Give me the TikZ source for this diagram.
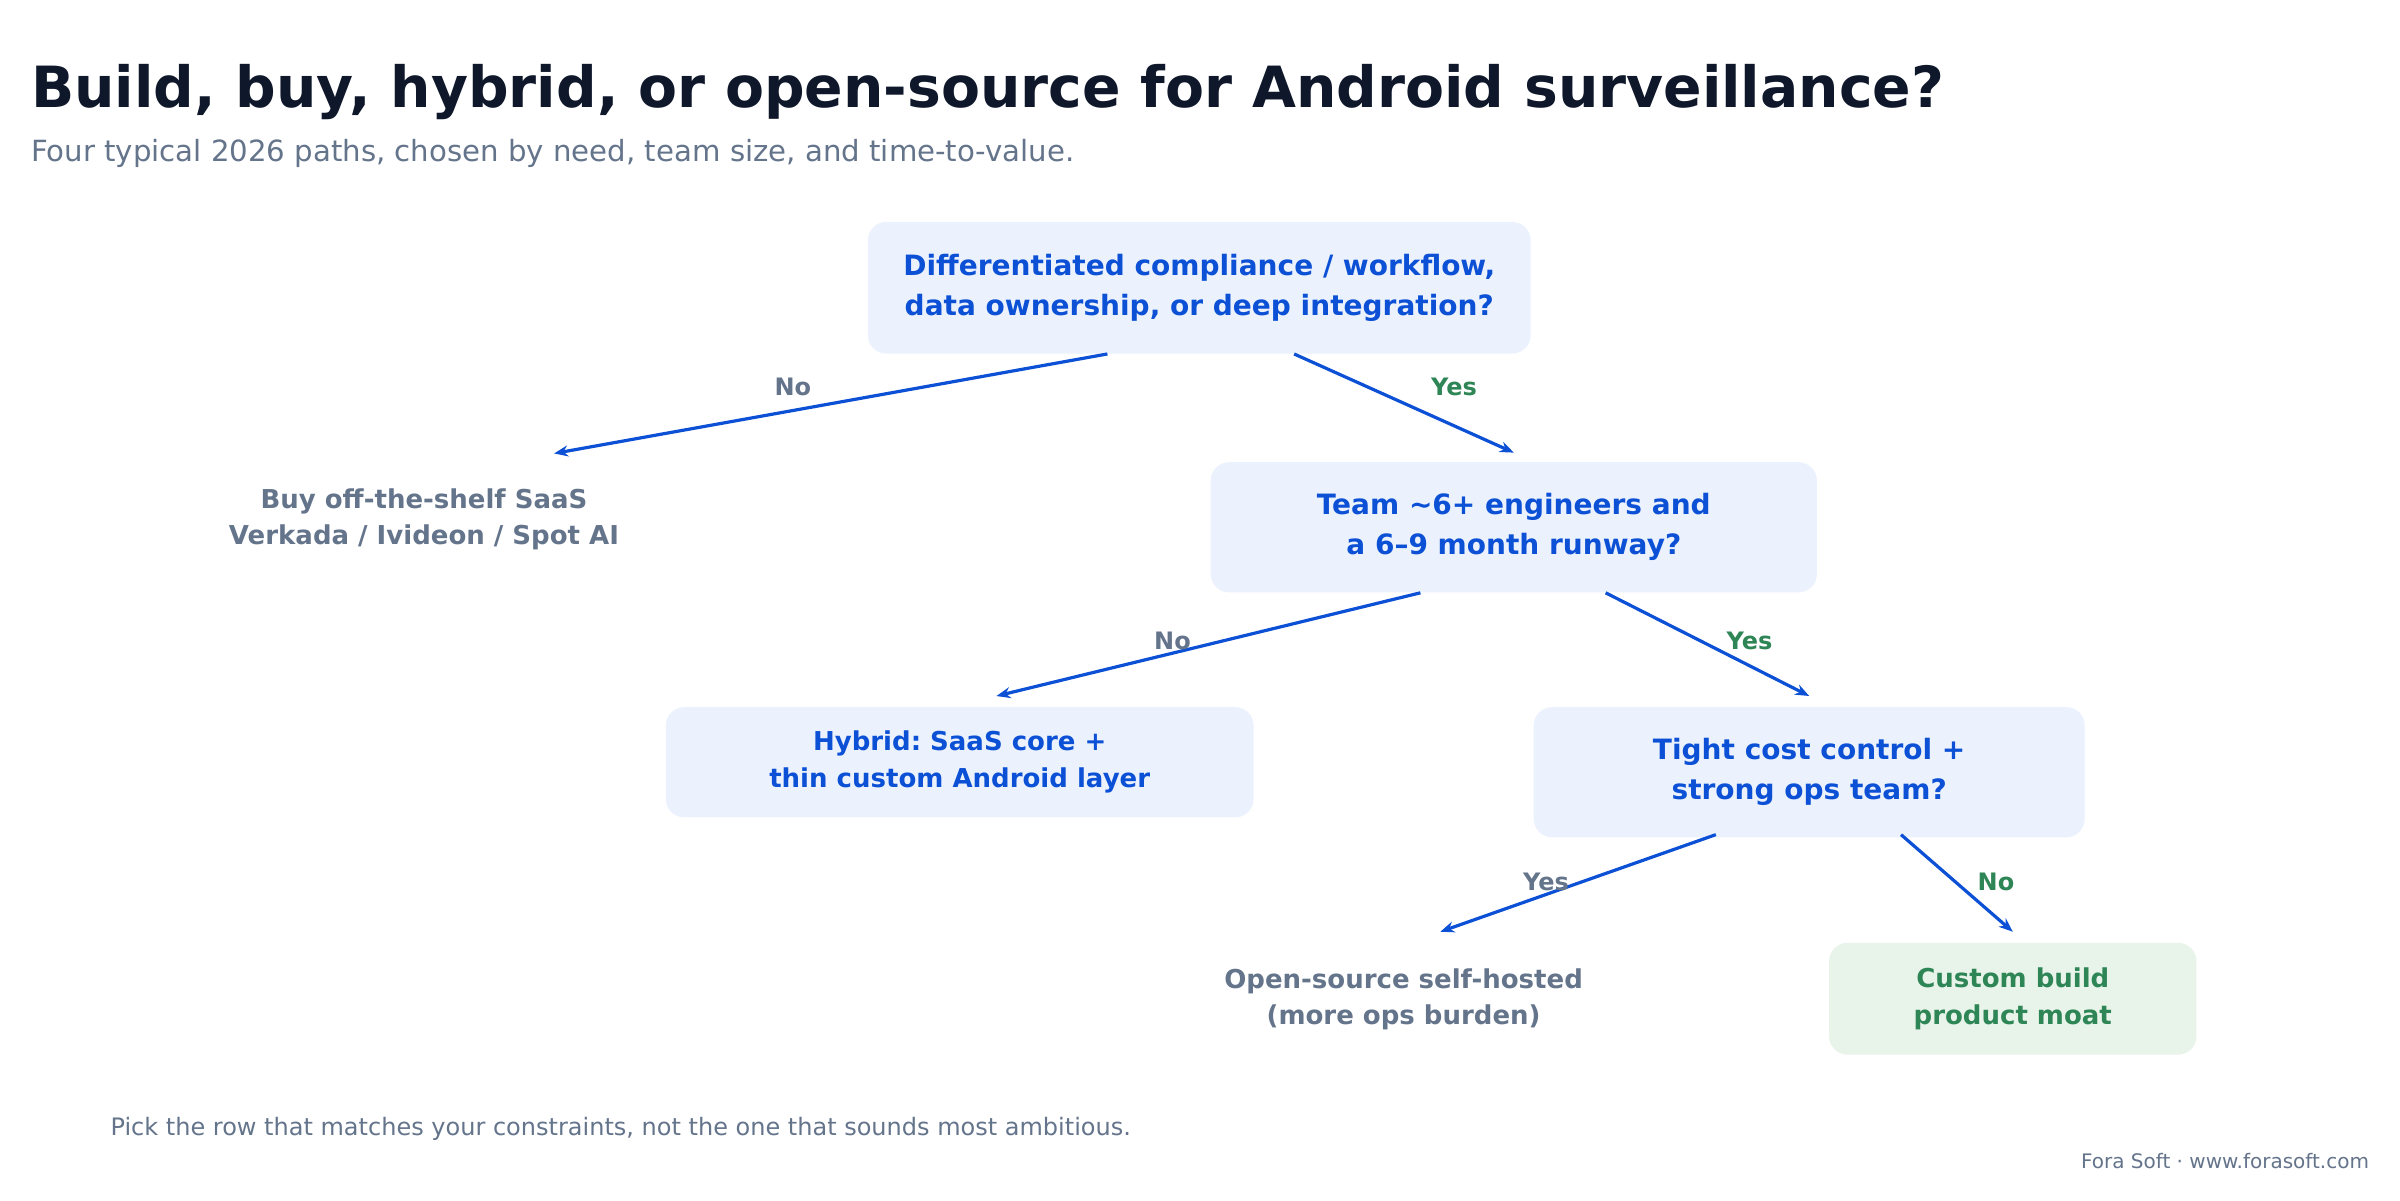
\documentclass[tikz,border=0pt]{standalone}
\usepackage{fontspec}
\setmainfont{DejaVu Sans}
\frenchspacing
\usetikzlibrary{arrows.meta,calc}
\definecolor{titlec}{HTML}{0F172A}
\definecolor{grayc}{HTML}{64748B}
\definecolor{bluec}{HTML}{0B50D5}
\definecolor{boxc}{HTML}{EBF2FE}
\definecolor{greenc}{HTML}{2E8555}
\definecolor{gboxc}{HTML}{E8F4EA}
\tikzset{
  qbox/.style={fill=boxc, rounded corners=9.2pt, inner sep=0pt, align=center, text=bluec,
    font=\bfseries\fontsize{14pt}{20pt}\selectfont},
  leafbox/.style={fill=boxc, rounded corners=9.2pt, inner sep=0pt, align=center, text=bluec,
    font=\bfseries\fontsize{13pt}{18.5pt}\selectfont},
  gbox/.style={fill=gboxc, rounded corners=9.2pt, inner sep=0pt, align=center, text=greenc,
    font=\bfseries\fontsize{13pt}{18.5pt}\selectfont},
  leaftext/.style={inner sep=0pt, align=center, text=grayc,
    font=\bfseries\fontsize{13pt}{18pt}\selectfont},
  conn/.style={draw=bluec, line width=1.6pt, -{Stealth[length=7pt,width=5.5pt]}},
  lblgray/.style={text=grayc, font=\bfseries\fontsize{12pt}{14pt}\selectfont},
  lblgreen/.style={text=greenc, font=\bfseries\fontsize{12pt}{14pt}\selectfont},
}
\begin{document}
\begin{tikzpicture}[x=0.7653pt, y=-0.7653pt]
\useasboundingbox[fill=white] (0,0) rectangle (1568,784);
% title
\node[anchor=base west, inner sep=0pt, text=titlec, font=\bfseries\fontsize{28.4pt}{32pt}\selectfont] (title) at (20,70.5) {Build, buy, hybrid, or open-source for Android surveillance?};
\node[anchor=base west, inner sep=0pt, text=grayc, font=\fontsize{14.6pt}{16pt}\selectfont] (subtitle) at (20,105.5) {Four typical 2026 paths, chosen by need, team size, and time-to-value.};
% boxes
\node[qbox, minimum width=331.4pt, minimum height=65.8pt] (q1) at (783.5,188) {Differentiated compliance / workflow,\\data ownership, or deep integration?};
\node[qbox, minimum width=303.1pt, minimum height=65.1pt] (q2) at (989,344.5) {Team \textasciitilde 6+ engineers and\\a 6–9 month runway?};
\node[leafbox, minimum width=293.9pt, minimum height=55.1pt] (hyb) at (627,498) {Hybrid: SaaS core +\\thin custom Android layer};
\node[qbox, minimum width=275.5pt, minimum height=65.1pt] (q3) at (1182,504.5) {Tight cost control +\\strong ops team?};
\node[gbox, minimum width=183.7pt, minimum height=55.9pt] (custom) at (1315,652.5) {Custom build\\product moat};
\node[leaftext, minimum height=65.8pt] (buy) at (277,339.5) {Buy off-the-shelf SaaS\\Verkada / Ivideon / Spot AI};
\node[leaftext, minimum height=55.9pt] (open) at (917,653) {Open-source self-hosted\\(more ops burden)};
% connectors
\draw[conn] ($(q1.south)+(-60,0)$) -- ($(buy.north)+(85,0)$);
\draw[conn] ($(q1.south)+(62,0)$) -- ($(q2.north)+(0,-6)$);
\draw[conn] ($(q2.south)+(-61,0)$) -- ($(hyb.north)+(24,-7)$);
\draw[conn] ($(q2.south)+(60,0)$) -- ($(q3.north)+(0,-7)$);
\draw[conn] ($(q3.south)+(-61,-2)$) -- ($(open.north)+(24,-7.5)$);
\draw[conn] ($(q3.south)+(60,-2)$) -- ($(custom.north)+(0,-7)$);
% labels
\node[lblgray] (l1) at (518,253) {No};
\node[lblgreen] (l2) at (950,253) {Yes};
\node[lblgray] (l3) at (766,419) {No};
\node[lblgreen] (l4) at (1143,419) {Yes};
\node[lblgray] (l5) at (1010,576) {Yes};
\node[lblgreen] (l6) at (1304,576) {No};
% footer
\node[anchor=base west, inner sep=0pt, text=grayc, font=\fontsize{12pt}{14pt}\selectfont] (foot) at (72,742) {Pick the row that matches your constraints, not the one that sounds most ambitious.};
\node[anchor=base east, inner sep=0pt, text=grayc, font=\fontsize{10pt}{12pt}\selectfont] (brand) at (1548,763.5) {Fora Soft · www.forasoft.com};
\end{tikzpicture}
\end{document}
